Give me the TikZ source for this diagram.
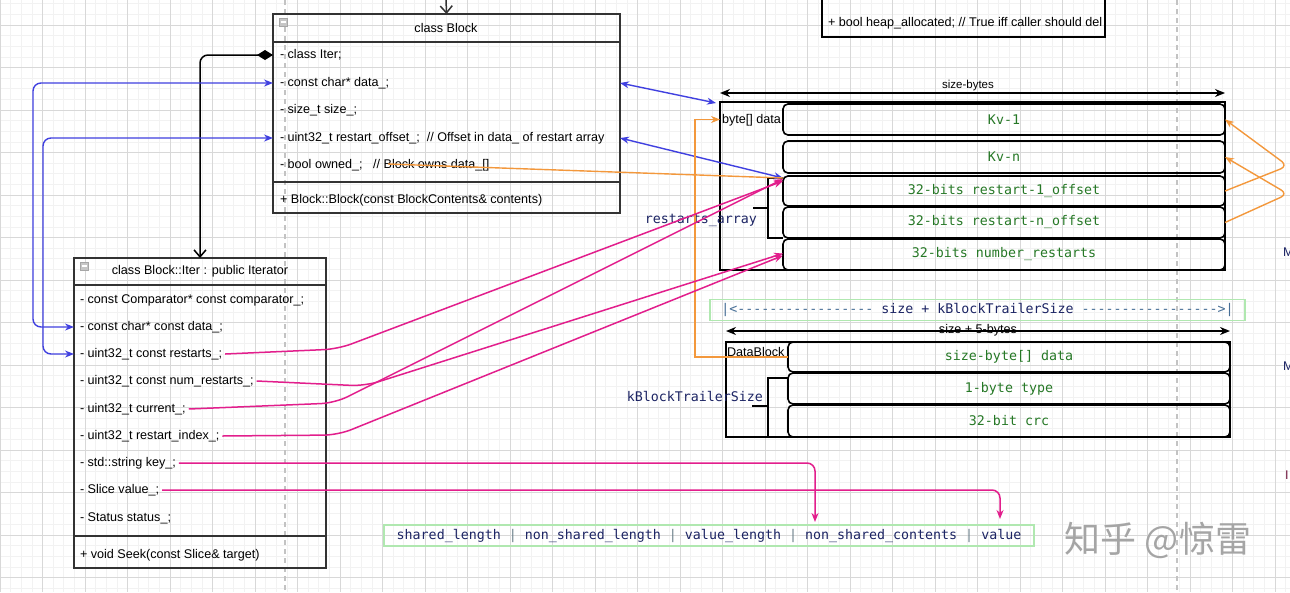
\documentclass[tikz,border=0pt]{standalone}
\usepackage{fontspec}
\setmainfont{Liberation Sans}
\setmonofont{DejaVu Sans Mono}
\newfontfamily\cjkfont{Noto Sans CJK SC}
\usetikzlibrary{arrows.meta}

\definecolor{umlline}{RGB}{51,51,51}
\definecolor{refblue}{RGB}{64,64,224}
\definecolor{refmag}{RGB}{226,30,140}
\definecolor{reforange}{RGB}{243,152,60}
\definecolor{codegreen}{RGB}{38,120,38}
\definecolor{navy}{RGB}{28,36,100}
\definecolor{dashblue}{RGB}{70,110,150}
\definecolor{sepgray}{RGB}{110,130,140}
\definecolor{boxgreen}{RGB}{176,232,176}
\definecolor{gridminor}{RGB}{242,242,242}
\definecolor{gridmajor}{RGB}{216,216,216}
\definecolor{pagebreak}{RGB}{195,195,195}
\definecolor{wmgray}{RGB}{165,165,165}
\definecolor{cutred}{RGB}{110,20,60}

\newcommand{\umlfont}{\fontsize{12.6}{14}\selectfont}
\newcommand{\cellfont}{\ttfamily\fontsize{13.3}{15}\selectfont}
\newcommand{\navyfont}{\ttfamily\fontsize{13.3}{15}\selectfont}

\begin{document}
\begin{tikzpicture}[x=1pt,y=-1pt,
  every node/.style={inner sep=0pt, outer sep=0pt},
  umlbox/.style={draw=umlline, line width=2pt, anchor=north west},
  field/.style={anchor=west, inner xsep=3pt, font=\umlfont},
  cell/.style={draw=black, line width=1.6pt, rounded corners=5pt, anchor=north west,
               minimum width=442pt, font=\cellfont, text=codegreen},
  outerbox/.style={draw=black, line width=1.5pt, anchor=north west},
  bracketline/.style={draw=black, line width=2pt},
  greenbox/.style={draw=boxgreen, line width=1.5pt, font=\navyfont, text=navy},
  icon/.style={draw=gray!70, fill=gray!45, minimum size=8pt, anchor=center},
  bluearrow/.style={draw=refblue, line width=1.4pt,
     {Stealth[length=9pt,width=7pt]}-{Stealth[length=9pt,width=7pt]}},
  magarrow/.style={draw=refmag, line width=1.5pt, -{Stealth[length=9pt,width=7pt]}},
  orangearrow/.style={draw=reforange, line width=1.4pt, -{Stealth[length=9pt,width=7pt]}},
  orangeline/.style={draw=reforange, line width=1.4pt},
  dimarrow/.style={draw=black, line width=1.5pt,
     {Stealth[length=10pt,width=8pt]}-{Stealth[length=10pt,width=8pt]}},
]
% canvas and grid
\useasboundingbox (0,0) rectangle (1290,592);
\fill[white] (0,0) rectangle (1290,592);
\foreach \i in {0,...,121} \draw[gridminor, line width=0.7pt] (\i*10.625,0) -- (\i*10.625,592);
\foreach \j in {0,...,55} \draw[gridminor, line width=0.7pt] (0,3.75+\j*10.625) -- (1290,3.75+\j*10.625);
\foreach \i in {0,...,30} \draw[gridmajor, line width=0.7pt] (\i*42.5,0) -- (\i*42.5,592);
\foreach \j in {0,...,13} \draw[gridmajor, line width=0.7pt] (0,25+\j*42.5) -- (1290,25+\j*42.5);
% page breaks
\draw[pagebreak, line width=1.2pt, dash pattern=on 5pt off 4pt] (285,0) -- (285,592);
\draw[pagebreak, line width=1.2pt, dash pattern=on 5pt off 4pt] (1177,0) -- (1177,592);

% ---------- class Block ----------
\node[umlbox, minimum width=347pt, minimum height=199pt] (block) at (273,14) {};
\draw[umlline, line width=2pt] (block.west |- 0,42) -- (block.east |- 0,42);
\draw[umlline, line width=2pt] (block.west |- 0,182) -- (block.east |- 0,182);
\node[icon] (bk-icon) at (283,22) {};
\draw[white, line width=1.2pt] ([xshift=-2.5pt]bk-icon.center) -- ([xshift=2.5pt]bk-icon.center);
\node[font=\umlfont] (bk-title) at (446,28) {class Block};
\node[field] (bk-iter)  at (277,55)  {- class Iter;};
\node[field] (bk-data)  at (277,83)  {- const char* data\_;};
\node[field] (bk-size)  at (277,110) {- size\_t size\_;};
\node[field] (bk-roff)  at (277,138) {- uint32\_t restart\_offset\_;~~// Offset in data\_ of restart array};
\node[field] (bk-owned) at (277,165) {- bool owned\_;~~~// Block owns data\_[]};
\node[field] (bk-ctor)  at (277,200) {+ Block::Block(const BlockContents\& contents)};

% ---------- class Block::Iter ----------
\node[umlbox, minimum width=252pt, minimum height=310pt] (iter) at (74,258) {};
\draw[umlline, line width=2pt] (iter.west |- 0,285) -- (iter.east |- 0,285);
\draw[umlline, line width=2pt] (iter.west |- 0,536) -- (iter.east |- 0,536);
\node[icon] (it-icon) at (84,266) {};
\draw[white, line width=1.2pt] ([xshift=-2.5pt]it-icon.center) -- ([xshift=2.5pt]it-icon.center);
\node[font=\umlfont] (it-title) at (200,271) {class Block::Iter : public Iterator};
\node[field] (it-cmp)      at (77,300) {- const Comparator* const comparator\_;};
\node[field] (it-data)     at (77,327) {- const char* const data\_;};
\node[field] (it-restarts) at (77,354) {- uint32\_t const restarts\_;};
\node[field] (it-num)      at (77,381) {- uint32\_t const num\_restarts\_;};
\node[field] (it-cur)      at (77,409) {- uint32\_t current\_;};
\node[field] (it-ridx)     at (77,436) {- uint32\_t restart\_index\_;};
\node[field] (it-key)      at (77,463) {- std::string key\_;};
\node[field] (it-value)    at (77,490) {- Slice value\_;};
\node[field] (it-status)   at (77,518) {- Status status\_;};
\node[field] (it-seek)     at (77,555) {+ void Seek(const Slice\& target)};

% ---------- partial class at the top ----------
\node[outerbox, anchor=south west, minimum width=283pt, minimum height=60pt] (heap) at (822,37) {};
\node[field] (heap-f) at (825,23) {+ bool heap\_allocated; // True iff caller should del};

% ---------- byte[] data block ----------
\node[outerbox, minimum width=505pt, minimum height=168pt] (bytes) at (720,102) {};
\node[anchor=west, inner xsep=2pt, font=\umlfont] (bytes-lbl) at (720,120) {byte[] data};
\node[cell, minimum height=31pt] (kv1) at (783,104) {Kv-1};
\node[cell, minimum height=32pt] (kvn) at (783,141) {Kv-n};
\node[cell, minimum height=30pt] (r1)  at (783,176) {32-bits restart-1\_offset};
\node[cell, minimum height=31pt] (rn)  at (783,207) {32-bits restart-n\_offset};
\node[cell, minimum height=31pt] (nrs) at (783,239) {32-bits number\_restarts};
\draw[bracketline] (783,178) -- (768,178) -- (768,238) -- (783,238);
\draw[bracketline] (768,208) -- (753,208);
\node[anchor=east, font=\navyfont, text=navy] (ra-lbl) at (757,220) {restarts\_array};
\draw[dimarrow] ([yshift=9pt]bytes.north west) -- ([yshift=9pt]bytes.north east);
\node[font=\fontsize{11.5}{13}\selectfont] (sb-lbl) at (968,86) {size-bytes};

% ---------- trailer width ----------
\node[greenbox, minimum width=535pt, minimum height=21pt] (trailer) at (977.5,310)
  {\textcolor{dashblue}{|<-----------------} size + kBlockTrailerSize \textcolor{dashblue}{----------------->|}};

% ---------- DataBlock ----------
\node[outerbox, minimum width=504pt, minimum height=95pt] (dblock) at (726,342) {};
\node[anchor=west, inner xsep=1pt, font=\umlfont] (db-lbl) at (726,352) {DataBlock};
\node[cell, minimum height=30pt] (db-data) at (788,342) {size-byte[] data};
\node[cell, minimum height=31pt] (db-type) at (788,373) {1-byte type};
\node[cell, minimum height=32pt] (db-crc)  at (788,405) {32-bit crc};
\draw[bracketline] (788,378) -- (768,378) -- (768,437) -- (788,437);
\draw[bracketline] (768,406) -- (752,406);
\node[anchor=east, font=\navyfont, text=navy] (kb-lbl) at (763,396) {kBlockTrailerSize};
\draw[dimarrow] ([yshift=11pt]dblock.north west) -- ([yshift=11pt]dblock.north east);
\node[font=\umlfont] (s5-lbl) at (978,330) {size + 5-bytes};

% ---------- entry format ----------
\node[greenbox, minimum width=650pt, minimum height=21pt] (fmt) at (709,535.5)
  {shared\_length \textcolor{sepgray}{|} non\_shared\_length \textcolor{sepgray}{|} value\_length \textcolor{sepgray}{|} non\_shared\_contents \textcolor{sepgray}{|} value};

% ---------- connectors ----------
\coordinate (top-src) at (446,-2);
\draw[umlline, line width=1.5pt, -{Straight Barb[length=7pt,width=12pt]}] (top-src) -- (block.north);
\draw[black, line width=1.5pt, rounded corners=8pt,
      {Diamond[length=16pt,width=10pt]}-{Straight Barb[length=7pt,width=12pt]}]
  (bk-iter -| block.west) -- (iter.north |- bk-iter) -- (iter.north);

\draw[bluearrow, rounded corners=8pt] (it-data -| iter.west) -- (33,0 |- it-data) -- (33,0 |- bk-data) -- (bk-data -| block.west);
\draw[bluearrow, rounded corners=8pt] (it-restarts -| iter.west) -- (43,0 |- it-restarts) -- (43,0 |- bk-roff) -- (bk-roff -| block.west);
\draw[bluearrow] (bk-data -| block.east) -- ([xshift=-4pt,yshift=-1pt]bytes.north west);
\draw[bluearrow] (bk-roff -| block.east) -- ([yshift=-2pt]r1.north west);

\coordinate (own-src) at (388,164);
\draw[orangeline] (own-src) -- ([yshift=-2pt]r1.north west);
\draw[orangearrow] (db-data.west) -- (695,0 |- db-data.west) -- (695,0 |- kv1) -- (kv1 -| bytes.west);
\draw[orangearrow, rounded corners=8pt] (r1.east) -- (1288,166) -- (kv1.east);
\draw[orangearrow, rounded corners=8pt] (rn.east) -- (1288,194) -- (kvn.east);

\draw[magarrow, rounded corners=14pt] (it-restarts.east) -- (338,349) -- ([yshift=-5pt]r1.north west);
\draw[magarrow, rounded corners=14pt] (it-num.east) -- (365,386) -- ([yshift=1pt]nrs.west);
\draw[magarrow, rounded corners=14pt] (it-cur.east) -- (335,403) -- ([yshift=-3pt]r1.north west);
\draw[magarrow, rounded corners=14pt] (it-ridx.east) -- (338,435) -- ([yshift=-1pt]nrs.west);
\draw[magarrow, rounded corners=8pt, shorten >=3pt] (it-key.east) -- (815,0 |- it-key) -- (815,0 |- fmt.north);
\draw[magarrow, rounded corners=8pt, shorten >=6pt] (it-value.east) -- (1000,0 |- it-value) -- (1000,0 |- fmt.north);

% ---------- watermark and labels cut at the edge ----------
\node[text=wmgray, font=\cjkfont\fontsize{36}{40}\selectfont] (wm) at (1158,540) {知乎 @惊雷};
\node[anchor=west, text=navy, font=\umlfont] (cut1) at (1283,252) {M};
\node[anchor=west, text=navy, font=\umlfont] (cut2) at (1283,366) {M};
\node[anchor=west, text=cutred, font=\umlfont] (cut3) at (1285,475) {I};
\end{tikzpicture}
\end{document}
